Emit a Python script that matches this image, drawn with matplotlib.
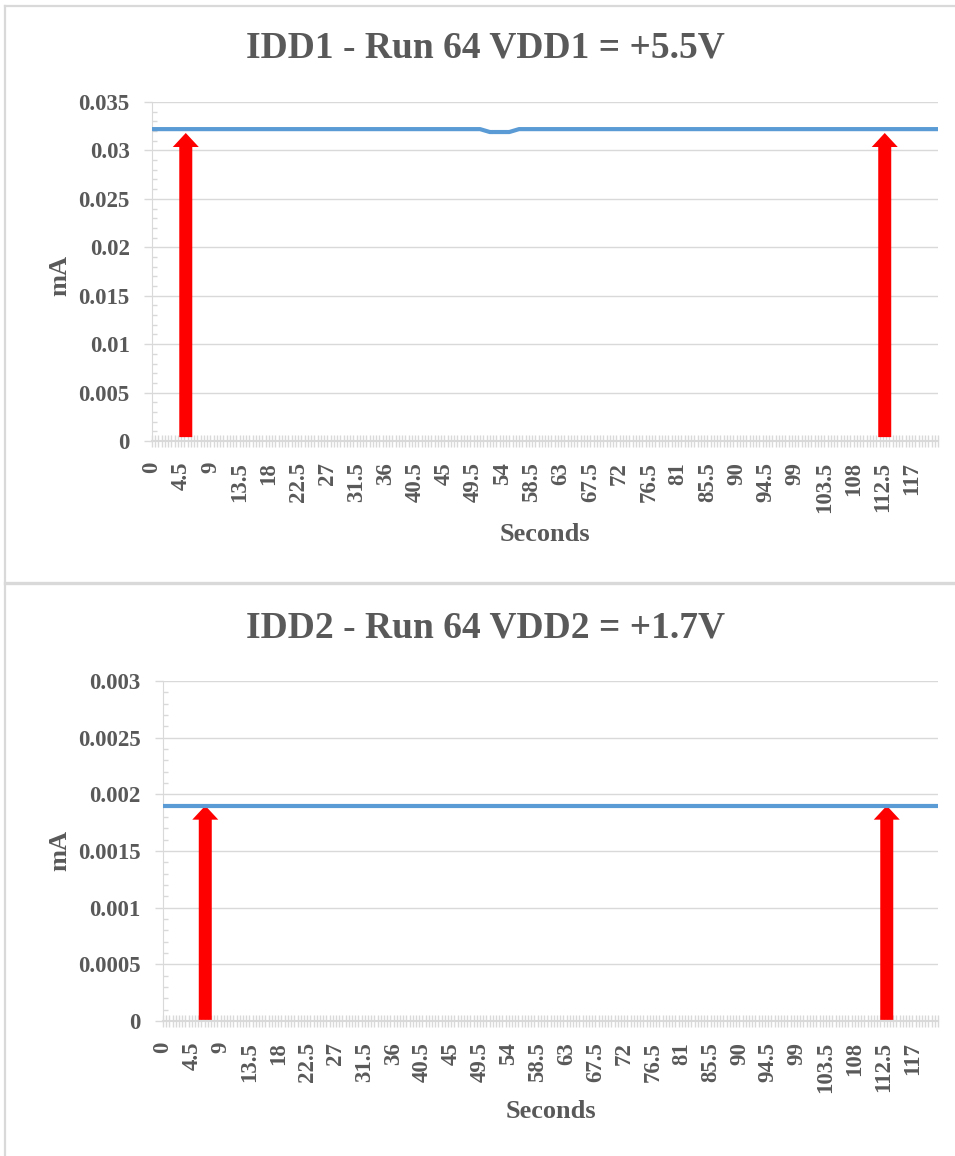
import matplotlib
matplotlib.use('Agg')
import matplotlib.pyplot as plt
from matplotlib.patches import FancyArrow
from matplotlib.lines import Line2D
from matplotlib.ticker import MultipleLocator, FuncFormatter

# sample times (category axis, 0.5 s steps)
seconds = [i * 0.5 for i in range(243)]

# IDD1 - small dip around 52-55 s
idd1 = ([0.0322] * 102
        + [0.0321, 0.0320, 0.0319, 0.0319, 0.0319, 0.0319, 0.0319, 0.0319, 0.0319, 0.0320, 0.0321]
        + [0.0322] * 130)
idd2 = [0.0019] * 243

titles = ['IDD1 - Run 64 VDD1 = +5.5V', 'IDD2 - Run 64 VDD2 = +1.7V']
series = [idd1, idd2]
y_max = [0.035, 0.003]
y_major = [0.005, 0.0005]
y_minor = [0.001, 0.0001]

# red marker arrows (start / end of run)
arrow_x = [[5.2, 112.8], [6.6, 113.0]]
arrow_tip = [0.0318, 0.0019]
arrow_base = [0.0004, 0.00001]

W, H = 955, 1156
gray = '#D9D9D9'
txt = '#595959'

plt.rcParams['font.family'] = ['Liberation Serif', 'DejaVu Serif']
plt.rcParams['font.weight'] = 'bold'

fig = plt.figure(figsize=(W / 100, H / 100), dpi=100)


def px(x0, y0, w, h):
    return [x0 / W, 1 - (y0 + h) / H, w / W, h / H]


# chart area borders
fig.add_artist(Line2D([5 / W, 1], [1 - 6 / H] * 2, color=gray, lw=1.6))
fig.add_artist(Line2D([5 / W, 1], [1 - 583 / H] * 2, color=gray, lw=2.4))
fig.add_artist(Line2D([5 / W] * 2, [0, 1 - 6 / H], color=gray, lw=1.6))

boxes = [(152, 102, 786, 339), (163, 681, 775, 340)]
title_y = [48, 628]
mA_y = [275, 850]
sec_xy = [(545, 534), (551, 1112)]

for i in range(2):
    ax = fig.add_axes(px(*boxes[i]))
    ax.plot(seconds, series[i], color='#5B9BD5', lw=3, solid_capstyle='round', zorder=4)
    ax.set_xlim(0, 121)
    ax.set_ylim(0, y_max[i])

    # arrows
    wpx = boxes[i][2] / 121.0
    hl = 14 * y_max[i] / boxes[i][3]
    for x in arrow_x[i]:
        ax.add_patch(FancyArrow(x, arrow_base[i], 0, arrow_tip[i] - arrow_base[i],
                                width=13 / wpx, head_width=26 / wpx, head_length=hl,
                                length_includes_head=True, color='#FF0000', lw=0, zorder=3))

    ax.xaxis.set_major_locator(MultipleLocator(4.5))
    ax.xaxis.set_minor_locator(MultipleLocator(0.5))
    ax.xaxis.set_major_formatter(FuncFormatter(lambda v, p: '%g' % v))
    ax.yaxis.set_major_locator(MultipleLocator(y_major[i]))
    ax.yaxis.set_minor_locator(MultipleLocator(y_minor[i]))
    ax.yaxis.set_major_formatter(FuncFormatter(lambda v, p: '%g' % round(v, 6)))

    ax.tick_params(axis='x', which='both', direction='inout', length=8, width=1, color=gray)
    ax.tick_params(axis='x', which='major', labelsize=16.5, labelcolor=txt, labelrotation=90, pad=11)
    ax.tick_params(axis='y', which='major', direction='out', length=6, width=1, color=gray,
                   labelsize=16.5, labelcolor=txt, pad=10)
    ax.tick_params(axis='y', which='minor', direction='in', length=3.6, width=1, color=gray)

    ax.grid(axis='y', which='major', color=gray, lw=1)
    ax.set_axisbelow(True)
    for s in ['top', 'right']:
        ax.spines[s].set_visible(False)
    ax.spines['left'].set_color(gray)
    ax.spines['bottom'].set_color(gray)
    ax.spines['bottom'].set_linewidth(1.5)

    fig.text(485 / W, 1 - title_y[i] / H, titles[i], ha='center', va='center',
             fontsize=27, color=txt, fontweight='bold')
    fig.text(60 / W, 1 - mA_y[i] / H, 'mA', rotation=90, ha='center', va='center',
             fontsize=19, color=txt, fontweight='bold')
    fig.text(sec_xy[i][0] / W, 1 - sec_xy[i][1] / H, 'Seconds', ha='center', va='center',
             fontsize=19, color=txt, fontweight='bold')

fig.savefig('out.png', dpi=100)
